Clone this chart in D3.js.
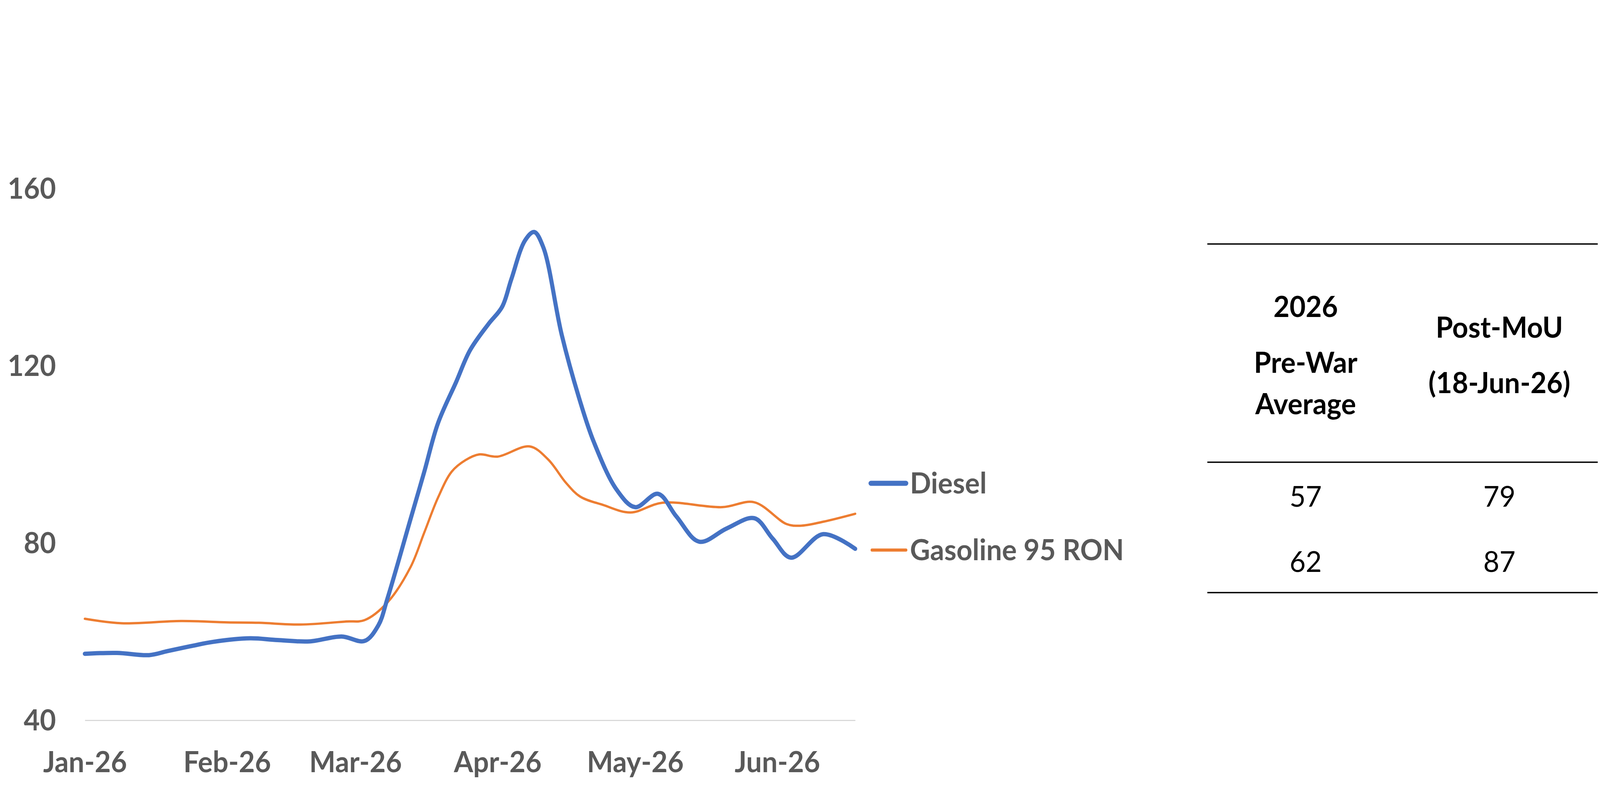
<!DOCTYPE html>
<html>
<head>
<meta charset="utf-8">
<script src="https://cdn.jsdelivr.net/npm/d3@7/dist/d3.min.js"></script>
<style>
    html, body { margin: 0; padding: 0; width: 100%; height: 100%; overflow: hidden; background: #ffffff; }
    svg { display: block; width: 100vw; height: 100vh; }
</style>
</head>
<body>
<svg class="chart" viewBox="0 0 4262 2080" preserveAspectRatio="none"></svg>
<script>
// price series, [date, value]
let dieselPoints = [
    ["2026-01-01", 55.0], ["2026-01-08", 55.2], ["2026-01-15", 54.7], ["2026-01-19", 55.6],
    ["2026-01-24", 56.7], ["2026-01-29", 57.7], ["2026-02-06", 58.5], ["2026-02-12", 58.1],
    ["2026-02-19", 57.8], ["2026-02-26", 58.9], ["2026-03-03", 57.9], ["2026-03-06", 61.4],
    ["2026-03-08", 67.5], ["2026-03-13", 85.3], ["2026-03-16", 96.0], ["2026-03-19", 107.0],
    ["2026-03-23", 116.4], ["2026-03-26", 123.5], ["2026-03-30", 129.4], ["2026-04-02", 133.3],
    ["2026-04-04", 139.5], ["2026-04-07", 148.3], ["2026-04-09", 150.2], ["2026-04-11", 146.7],
    ["2026-04-15", 127.0], ["2026-04-19", 112.0], ["2026-04-22", 102.8], ["2026-04-27", 92.0],
    ["2026-05-01", 88.1], ["2026-05-06", 91.1], ["2026-05-10", 86.0], ["2026-05-15", 80.3],
    ["2026-05-21", 83.3], ["2026-05-27", 85.6], ["2026-05-31", 81.0], ["2026-06-04", 76.7],
    ["2026-06-11", 82.0], ["2026-06-18", 78.7]
];

let gasolinePoints = [
    ["2026-01-01", 62.9], ["2026-01-09", 61.9], ["2026-01-22", 62.4], ["2026-02-01", 62.1],
    ["2026-02-08", 62.0], ["2026-02-17", 61.6], ["2026-02-27", 62.3], ["2026-03-03", 62.6],
    ["2026-03-08", 66.6], ["2026-03-13", 74.5], ["2026-03-16", 82.3], ["2026-03-19", 90.2],
    ["2026-03-22", 96.1], ["2026-03-25", 98.7], ["2026-03-28", 100.0], ["2026-04-01", 99.5],
    ["2026-04-08", 101.8], ["2026-04-12", 98.9], ["2026-04-16", 93.5], ["2026-04-19", 90.5],
    ["2026-04-24", 88.6], ["2026-04-30", 86.9], ["2026-05-07", 89.1], ["2026-05-20", 88.1],
    ["2026-05-27", 89.2], ["2026-06-03", 84.3], ["2026-06-06", 83.9], ["2026-06-11", 84.8],
    ["2026-06-18", 86.6]
];

let seriesNames = ["Diesel", "Gasoline 95 RON"];
let seriesColors = ["#4472C4", "#ED7D31"];
let seriesWidths = [11, 6];

let yTicks = [40, 80, 120, 160];
let monthTicks = ["2026-01-01", "2026-02-01", "2026-03-01", "2026-04-01", "2026-05-01", "2026-06-01"];

// side table
let tableHeaders = [["2026", "Pre-War", "Average"], ["Post-MoU", "(18-Jun-26)"]];
let tableRows = [[57, 79], [62, 87]];

let fontFamily = "Lato, 'Open Sans', sans-serif";
let axisGray = "#595959";

let svg = d3.select(".chart");
let parseDate = d3.timeParse("%Y-%m-%d");

let xScale = d3.scaleTime()
    .domain([parseDate("2026-01-01"), parseDate("2026-06-18")])
    .range([226, 2278]);

let yScale = d3.scaleLinear()
    .domain([40, 160])
    .range([1845, 483]);

// x axis, the domain line doubles as the light baseline
let xAxis = svg.append("g")
    .attr("class", "x_axis")
    .attr("transform", "translate(0," + yScale(40) + ")")
    .call(d3.axisBottom(xScale)
        .tickValues(monthTicks.map(parseDate))
        .tickSize(0)
        .tickSizeOuter(0)
        .tickFormat(d3.timeFormat("%b-%y")));
xAxis.select(".domain")
    .attr("stroke", "#d9d9d9")
    .attr("stroke-width", 3);
xAxis.selectAll("text")
    .attr("y", 133)
    .attr("dy", 0)
    .style("font-family", fontFamily)
    .style("font-weight", "bold")
    .style("font-size", 74)
    .style("fill", axisGray);

// y axis labels only
let yAxis = svg.append("g")
    .attr("class", "y_axis")
    .attr("transform", "translate(226,0)")
    .call(d3.axisLeft(yScale).tickValues(yTicks).tickSize(0).tickPadding(77));
yAxis.select(".domain").remove();
yAxis.selectAll("text")
    .attr("dy", "0.35em")
    .style("font-family", fontFamily)
    .style("font-weight", "bold")
    .style("font-size", 74)
    .style("fill", axisGray);

// lines
let line = d3.line()
    .x(function(d) { return xScale(parseDate(d[0])); })
    .y(function(d) { return yScale(d[1]); })
    .curve(d3.curveCatmullRom.alpha(0.5));

[gasolinePoints, dieselPoints].forEach(function(points, k) {
    let i = 1 - k;
    svg.append("path")
        .datum(points)
        .attr("d", line)
        .attr("fill", "none")
        .attr("stroke", seriesColors[i])
        .attr("stroke-width", seriesWidths[i])
        .style("stroke-linecap", "round")
        .style("stroke-linejoin", "round");
});

// legend
let legendY = [1238, 1409];
seriesNames.forEach(function(name, i) {
    svg.append("line")
        .attr("x1", 2320 + i * 3)
        .attr("x2", 2413)
        .attr("y1", legendY[i])
        .attr("y2", legendY[i])
        .attr("stroke", seriesColors[i])
        .attr("stroke-width", seriesWidths[i] + 2)
        .style("stroke-linecap", "round");
    svg.append("text")
        .attr("x", 2424)
        .attr("y", legendY[i] + 26)
        .text(name)
        .style("font-family", fontFamily)
        .style("font-weight", "bold")
        .style("font-size", 74)
        .style("fill", axisGray);
});

// table rules
let ruleY = [625, 1184, 1518];
ruleY.forEach(function(y) {
    svg.append("line")
        .attr("x1", 3216)
        .attr("x2", 4256)
        .attr("y1", y)
        .attr("y2", y)
        .attr("stroke", "#000000")
        .attr("stroke-width", 3.5);
});

let colX = [3478, 3994];
let headerBaselines = [[812, 955, 1061], [865, 1007]];
tableHeaders.forEach(function(lines, c) {
    lines.forEach(function(txt, j) {
        svg.append("text")
            .attr("x", colX[c])
            .attr("y", headerBaselines[c][j])
            .attr("text-anchor", "middle")
            .text(txt)
            .style("font-family", fontFamily)
            .style("font-weight", "bold")
            .style("font-size", 74)
            .style("fill", "#000000");
    });
});

let rowBaselines = [1298, 1465];
tableRows.forEach(function(row, r) {
    row.forEach(function(val, c) {
        svg.append("text")
            .attr("x", colX[c])
            .attr("y", rowBaselines[r])
            .attr("text-anchor", "middle")
            .text(val)
            .style("font-family", fontFamily)
            .style("font-size", 74)
            .style("fill", "#000000");
    });
});
</script>
</body>
</html>
